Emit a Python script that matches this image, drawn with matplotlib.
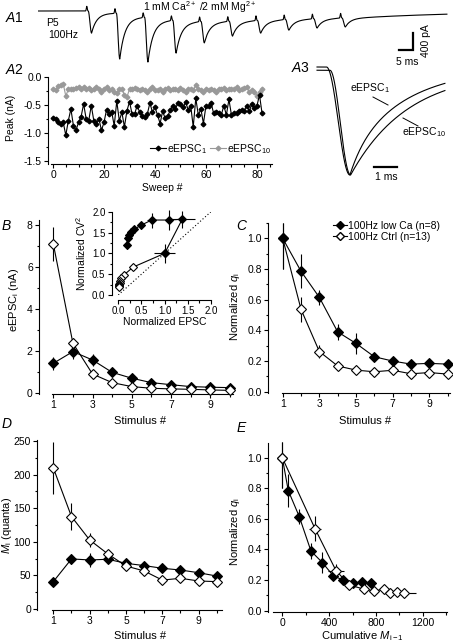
import numpy as np
import matplotlib.pyplot as plt
from matplotlib.lines import Line2D
from matplotlib.ticker import MultipleLocator, FormatStrFormatter

plt.rcParams['font.family'] = ['Liberation Sans', 'DejaVu Sans']
plt.rcParams['mathtext.fontset'] = 'custom'
plt.rcParams['mathtext.rm'] = 'Liberation Sans'
plt.rcParams['mathtext.it'] = 'Liberation Sans:italic'
plt.rcParams['mathtext.default'] = 'regular'
plt.rcParams['axes.linewidth'] = 0.8

#========= data ============================================
# A1: train of 10 eEPSCs at 100 Hz, trough depth below baseline (pA)
a1_troughs = [520, 1130, 1200, 990, 750, 590, 520, 450, 400, 375]
a1_first_stim = 17.4      # ms
a1_interval = 10.0        # ms (100 Hz)

# A2: peak amplitude per sweep (nA)
sweep_epsc1 = [-0.73, -0.75, -0.80, -0.84, -0.81, -1.04, -0.78, -0.57, -0.87, -0.95,
               -0.81, -0.71, -0.48, -0.75, -0.78, -0.51, -0.78, -0.84, -0.75, -0.95,
               -0.81, -0.58, -0.66, -0.62, -0.87, -0.43, -0.78, -0.63, -0.89, -0.60,
               -0.44, -0.66, -0.66, -0.51, -0.63, -0.69, -0.72, -0.66, -0.46, -0.63,
               -0.54, -0.68, -0.83, -0.61, -0.74, -0.70, -0.59, -0.51, -0.57, -0.46,
               -0.49, -0.54, -0.45, -0.58, -0.51, -0.89, -0.38, -0.68, -0.57, -0.83,
               -0.51, -0.51, -0.46, -0.65, -0.62, -0.65, -0.68, -0.51, -0.68, -0.40,
               -0.68, -0.65, -0.64, -0.61, -0.58, -0.60, -0.51, -0.61, -0.48, -0.55,
               -0.51, -0.32, -0.65]
sweep_epsc10 = [-0.21, -0.24, -0.16, -0.14, -0.12, -0.34, -0.22, -0.21, -0.21, -0.20,
                -0.18, -0.21, -0.17, -0.22, -0.20, -0.24, -0.21, -0.18, -0.22, -0.26,
                -0.21, -0.18, -0.24, -0.22, -0.27, -0.28, -0.21, -0.21, -0.32, -0.36,
                -0.21, -0.22, -0.20, -0.22, -0.24, -0.21, -0.24, -0.26, -0.21, -0.18,
                -0.24, -0.24, -0.22, -0.26, -0.21, -0.20, -0.24, -0.21, -0.22, -0.24,
                -0.20, -0.24, -0.27, -0.22, -0.21, -0.24, -0.14, -0.21, -0.24, -0.26,
                -0.22, -0.24, -0.21, -0.24, -0.27, -0.21, -0.22, -0.20, -0.24, -0.21,
                -0.22, -0.21, -0.18, -0.24, -0.21, -0.20, -0.18, -0.27, -0.24, -0.26,
                -0.33, -0.26, -0.21]

# A3: normalized eEPSC1 / eEPSC10 waveforms (ms)
a3_onset = [1.15, 1.30]
a3_peak = [2.17, 2.20]
a3_base = [0.0, -0.03]

# B-E
stim = [1, 2, 3, 4, 5, 6, 7, 8, 9, 10]
b_lowca = [1.40, 1.96, 1.56, 0.97, 0.69, 0.48, 0.38, 0.29, 0.26, 0.24]
b_lowca_err = [0.30, 0.35, 0.28, 0.12, 0.08, 0.05, 0.04, 0.03, 0.03, 0.03]
b_ctrl = [7.10, 2.36, 0.89, 0.48, 0.29, 0.21, 0.18, 0.16, 0.13, 0.11]
b_ctrl_err = [0.80, 0.25, 0.10, 0.05, 0.03, 0.02, 0.02, 0.02, 0.02, 0.02]

cv_lowca_x = [1.0, 1.38, 1.10, 0.72, 0.48, 0.345, 0.27, 0.23, 0.20, 0.18]
cv_lowca_y = [1.0, 1.82, 1.80, 1.80, 1.67, 1.58, 1.52, 1.43, 1.36, 1.20]
cv_lowca_xerr = [0.23, 0.28, 0.05, 0.10, 0.04, 0.03, 0.03, 0.02, 0.02, 0.02]
cv_lowca_yerr = [0.23, 0.20, 0.24, 0.18, 0.08, 0.08, 0.07, 0.07, 0.08, 0.10]
cv_ctrl_x = [1.0, 0.32, 0.13, 0.065, 0.04, 0.03, 0.02, 0.015, 0.01, 0.005]
cv_ctrl_y = [1.0, 0.67, 0.49, 0.42, 0.34, 0.30, 0.27, 0.25, 0.22, 0.20]

q_lowca = [1.0, 0.785, 0.615, 0.39, 0.315, 0.228, 0.20, 0.18, 0.185, 0.18]
q_lowca_err = [0.20, 0.11, 0.05, 0.05, 0.07, 0.02, 0.015, 0.01, 0.01, 0.01]
q_ctrl = [1.0, 0.537, 0.262, 0.168, 0.141, 0.13, 0.14, 0.117, 0.125, 0.115]
q_ctrl_err = [0.20, 0.08, 0.04, 0.015, 0.01, 0.01, 0.01, 0.01, 0.01, 0.01]

m_lowca = [40.7, 74.5, 73.0, 74.0, 68.0, 64.6, 60.6, 58.0, 54.0, 49.0]
m_lowca_err = [3, 8, 10, 6, 4, 3, 3, 3, 3, 3]
m_ctrl = [210.0, 137.6, 102.8, 82.0, 64.0, 56.6, 43.0, 45.7, 41.7, 40.7]
m_ctrl_err = [39, 20, 10, 5, 4, 3, 3, 3, 3, 3]

cum_lowca = [0, 51, 145, 245, 342, 436, 521, 601, 678, 755]
cum_lowca_err = [0, 10, 15, 20, 25, 30, 35, 40, 45, 50]
cum_ctrl = [0, 279, 459, 573, 698, 787, 869, 921, 983, 1040]
cum_ctrl_err = [0, 50, 68, 30, 30, 30, 40, 50, 60, 100]

#========= figure helpers ==================================
W, H = 453, 644
fig = plt.figure(figsize=(W / 100, H / 100), dpi=100)


def box(l, t, r, b):
    return fig.add_axes([l / W, 1 - b / H, (r - l) / W, (b - t) / H])


def ftext(x, y, s, **kw):
    kw.setdefault('ha', 'center')
    kw.setdefault('va', 'center')
    kw.setdefault('fontsize', 8)
    fig.text(x / W, 1 - y / H, s, **kw)


def fline(xs, ys, lw=0.7):
    fig.add_artist(Line2D([x / W for x in xs], [1 - y / H for y in ys],
                          color='k', lw=lw, transform=fig.transFigure))


def style(ax, left_out, bottom_out=0, size=7.5):
    ax.spines['top'].set_visible(False)
    ax.spines['right'].set_visible(False)
    ax.spines['left'].set_position(('outward', left_out * 0.72))
    ax.spines['bottom'].set_position(('outward', bottom_out * 0.72))
    ax.tick_params(which='major', direction='out', length=3, width=0.8,
                   labelsize=size, pad=1.5)
    ax.tick_params(which='minor', direction='out', length=1.8, width=0.8)
    ax.patch.set_visible(False)


def series(ax, x, y, yerr, filled, xerr=None, z=3, ms=4.6):
    ax.errorbar(x, y, yerr=yerr, xerr=xerr, color='k', lw=0.8, elinewidth=0.8,
                capsize=0, marker='D', ms=ms, mfc='k' if filled else 'w',
                mec='k', mew=0.8, clip_on=False, zorder=z)


def letter(x, y, a, sub=''):
    ftext(x, y, r'$\mathit{%s}$%s' % (a, sub), fontsize=10, ha='left')

#========= A1 ==============================================
t_lat, t_rise, tau_fast, tau_slow, f_slow = 0.4, 1.2, 1.8, 40.0, 0.12


def kernel(x):
    x = np.asarray(x, float) - t_lat
    out = np.zeros_like(x)
    r = (x > 0) & (x <= t_rise)
    out[r] = 0.5 * (1 - np.cos(np.pi * x[r] / t_rise))
    d = x > t_rise
    out[d] = ((1 - f_slow) * np.exp(-(x[d] - t_rise) / tau_fast)
              + f_slow * np.exp(-(x[d] - t_rise) / tau_slow))
    return out


stim_t = a1_first_stim + a1_interval * np.arange(len(a1_troughs))
amps = []
for i, ti in enumerate(stim_t):
    tp = ti + t_lat + t_rise
    prev = sum(a * kernel([tp - tj])[0] for a, tj in zip(amps, stim_t[:i]))
    amps.append(a1_troughs[i] - prev)

t = np.linspace(0, 145, 4000)
cur = np.zeros_like(t)
for a, tj in zip(amps, stim_t):
    cur -= a * kernel(t - tj)
    cur += 110 * np.exp(-((t - tj + 0.1) / 0.22) ** 2)

ax1 = box(38, 3, 450, 67)
ax1.axis('off')
ax1.plot(t, cur, color='k', lw=0.8)
ax1.set_xlim(0, (450 - 38) / 2.82)
ax1.set_ylim(-(67 - 11) * 23.5, (11 - 3) * 23.5)
sb_t, sb_i = (413 - 38) / 2.82, -(50 - 11) * 23.5
ax1.plot([sb_t - 5, sb_t, sb_t], [sb_i, sb_i, sb_i + 400], color='k', lw=1.6,
         solid_joinstyle='miter')
letter(5, 18, 'A', '1')
ftext(200, 7, '1 mM Ca$^{2+}$ /2 mM Mg$^{2+}$', fontsize=7.5)
ftext(46, 23, 'P5', fontsize=7.5, ha='left')
ftext(48, 35, '100Hz', fontsize=7.5, ha='left')
ftext(407, 62, '5 ms', fontsize=7.5)
ftext(426, 41, '400 pA', fontsize=7.5, rotation=90)

#========= A2 ==============================================
ax2 = box(51, 76.5, 272, 163.8)
style(ax2, 3, size=7.5)
sweeps = np.arange(len(sweep_epsc1))
ax2.plot(sweeps, sweep_epsc10, color='#999999', lw=0.8, marker='D', ms=2.4,
         label='eEPSC$_{10}$', clip_on=False)
ax2.plot(sweeps, sweep_epsc1, color='k', lw=0.8, marker='D', ms=2.4,
         label='eEPSC$_1$', clip_on=False)
ax2.set_xlim(-0.8, 85.9)
ax2.set_ylim(-1.55, 0.01)
ax2.set_xticks([0, 20, 40, 60, 80])
ax2.xaxis.set_minor_locator(MultipleLocator(5))
ax2.set_yticks([-1.5, -1.0, -0.5, 0.0])
ax2.yaxis.set_minor_locator(MultipleLocator(0.25))
ax2.yaxis.set_major_formatter(FormatStrFormatter('%.1f'))
h, l = ax2.get_legend_handles_labels()
ax2.legend(h[::-1], l[::-1], ncol=2, loc='center left',
           bbox_to_anchor=((150 - 51) / 221, 1 - (149 - 76.5) / 87.3),
           frameon=False, fontsize=7.5, handlelength=1.5, handletextpad=0.15,
           columnspacing=0.3, borderpad=0, borderaxespad=0)
letter(5, 70, 'A', '2')
ftext(11, 118, 'Peak (nA)', fontsize=7.5, rotation=90)
ftext(162, 188, 'Sweep #', fontsize=7.5)

#========= A3 ==============================================
ax3 = box(300, 55, 450, 190)
ax3.axis('off')
tt = np.linspace(0.74, 6.3, 800)
for k in range(2):
    t0, tp = a3_onset[k], a3_peak[k]
    w = np.zeros_like(tt)
    r = (tt > t0) & (tt <= tp)
    w[r] = 0.5 * (1 - np.cos(np.pi * (tt[r] - t0) / (tp - t0)))
    d = tt > tp
    if k == 0:
        w[d] = 0.21 * np.exp(-(tt[d] - tp) / 0.6) + 0.79 * np.exp(-(tt[d] - tp) / 2.5)
    else:
        w[d] = np.exp(-(tt[d] - tp) / 2.5)
    y = a3_base[k] - (1 + a3_base[k]) * w
    ax3.plot(tt, y, color='k', lw=0.8)
ax3.plot([(374 - 300) / 23, (397 - 300) / 23], [-(167 - 67) / 108] * 2, color='k', lw=1.6)
ax3.set_xlim(0, 150 / 23)
ax3.set_ylim(-(190 - 67) / 108, (67 - 55) / 108)
letter(291, 68, 'A', '3')
ftext(370, 88, 'eEPSC$_1$', fontsize=7.5)
fline([373, 388], [97, 105])
ftext(424, 132, 'eEPSC$_{10}$', fontsize=7.5)
fline([403, 418], [118, 126])
ftext(386, 177, '1 ms', fontsize=7.5)

#========= B ===============================================
axB = box(52, 220.2, 233, 393.5)
style(axB, 13)
series(axB, stim, b_lowca, b_lowca_err, True, z=3)
series(axB, stim, b_ctrl, b_ctrl_err, False, z=4)
axB.set_xlim(1 - 1.3 / 19.6, 1 + (233 - 53.3) / 19.6)
axB.set_ylim(-0.04, 8.23)
axB.set_xticks([1, 3, 5, 7, 9])
axB.xaxis.set_minor_locator(MultipleLocator(1))
axB.set_yticks([0, 2, 4, 6, 8])
axB.yaxis.set_minor_locator(MultipleLocator(1))
letter(1, 226, 'B')
ftext(14, 300, 'eEPSC$_i$ (nA)', rotation=90)
ftext(140, 421, 'Stimulus #')

axI = box(118.3, 211.7, 211, 295)
style(axI, 6.6, 5, size=7)
axI.plot([0, 2], [0, 2], color='k', lw=0.8, ls=(0, (1, 2)))
series(axI, cv_ctrl_x, cv_ctrl_y, None, False, z=3, ms=4.2)
series(axI, cv_lowca_x, cv_lowca_y, cv_lowca_yerr, True, xerr=cv_lowca_xerr, z=4, ms=4.2)
axI.set_xlim(0, 2.0)
axI.set_ylim(0, 2.0)
axI.set_xticks([0, 0.5, 1.0, 1.5, 2.0])
axI.set_yticks([0, 0.5, 1.0, 1.5, 2.0])
axI.xaxis.set_minor_locator(MultipleLocator(0.25))
axI.yaxis.set_minor_locator(MultipleLocator(0.25))
axI.xaxis.set_major_formatter(FormatStrFormatter('%.1f'))
axI.yaxis.set_major_formatter(FormatStrFormatter('%.1f'))
ftext(81, 253, 'Normalized CV$^2$', fontsize=7.5, rotation=90)
ftext(165, 322, 'Normalized EPSC', fontsize=7.5)

#========= C ===============================================
axC = box(281.7, 223, 450, 392.5)
style(axC, 13.4)
q_lo = np.array(q_lowca)
q_hi = np.minimum(q_lowca_err, 1.1 - q_lo)
series(axC, stim, q_ctrl, [q_ctrl_err, np.minimum(q_ctrl_err, 1.1 - np.array(q_ctrl))],
       False, z=3)
series(axC, stim, q_lowca, [q_lowca_err, q_hi], True, z=4)
axC.set_xlim(1 - 1.0 / 18.33, 1 + (450 - 282.7) / 18.33)
axC.set_ylim(-0.005, 1.1)
axC.set_xticks([1, 3, 5, 7, 9])
axC.xaxis.set_minor_locator(MultipleLocator(1))
axC.set_yticks([0, 0.2, 0.4, 0.6, 0.8, 1.0])
axC.yaxis.set_minor_locator(MultipleLocator(0.1))
axC.yaxis.set_major_formatter(FormatStrFormatter('%.1f'))
hC = [Line2D([], [], color='k', lw=0.8, marker='D', ms=4.2, mfc='k', mec='k'),
      Line2D([], [], color='k', lw=0.8, marker='D', ms=4.2, mfc='w', mec='k')]
axC.legend(hC, ['100Hz low Ca (n=8)', '100Hz Ctrl (n=13)'], loc='upper left',
           bbox_to_anchor=((333 - 281.7) / 168.3, 1 - (221 - 223) / 169.5),
           frameon=False, fontsize=7.5, handlelength=1.3, handletextpad=0.15,
           labelspacing=0.05, borderpad=0, borderaxespad=0)
letter(236, 226, 'C')
ftext(235, 307, r'Normalized $\mathit{q}_\mathrm{i}$', rotation=90)
ftext(365, 421, 'Stimulus #')

#========= D ===============================================
axD = box(52, 440, 222, 609.5)
style(axD, 14.7)
series(axD, stim, m_lowca, m_lowca_err, True, z=3)
series(axD, stim, m_ctrl, m_ctrl_err, False, z=4)
axD.set_xlim(1 - 1.3 / 18.17, 1 + (222 - 53.3) / 18.17)
axD.set_ylim(-0.74, 251.5)
axD.set_xticks([1, 3, 5, 7, 9])
axD.xaxis.set_minor_locator(MultipleLocator(1))
axD.set_yticks([0, 50, 100, 150, 200, 250])
axD.yaxis.set_minor_locator(MultipleLocator(25))
letter(1, 424, 'D')
ftext(7, 525, r'$\mathit{M}_\mathrm{i}$ (quanta)', rotation=90)
ftext(140, 636, 'Stimulus #')

#========= E ===============================================
axE = box(273, 443, 447, 611.7)
style(axE, 4.7)
q_ctrl_a = np.array(q_ctrl)
series(axE, cum_lowca, q_lowca, [q_lowca_err, q_hi], True, xerr=cum_lowca_err, z=3)
series(axE, cum_ctrl, q_ctrl, [q_ctrl_err, np.minimum(q_ctrl_err, 1.1 - q_ctrl_a)],
       False, xerr=cum_ctrl_err, z=4)
axE.set_xlim(-(282.3 - 273) / 0.117, (447 - 282.3) / 0.117)
axE.set_ylim(-0.0065, 1.096)
axE.set_xticks([0, 400, 800, 1200])
axE.xaxis.set_minor_locator(MultipleLocator(200))
axE.set_yticks([0, 0.2, 0.4, 0.6, 0.8, 1.0])
axE.yaxis.set_minor_locator(MultipleLocator(0.1))
axE.yaxis.set_major_formatter(FormatStrFormatter('%.1f'))
letter(236, 428, 'E')
ftext(235, 532, r'Normalized $\mathit{q}_\mathrm{i}$', rotation=90)
ftext(362, 636, r'Cumulative $\mathit{M}_\mathrm{i-1}$')

fig.savefig('out.png', dpi=100)
